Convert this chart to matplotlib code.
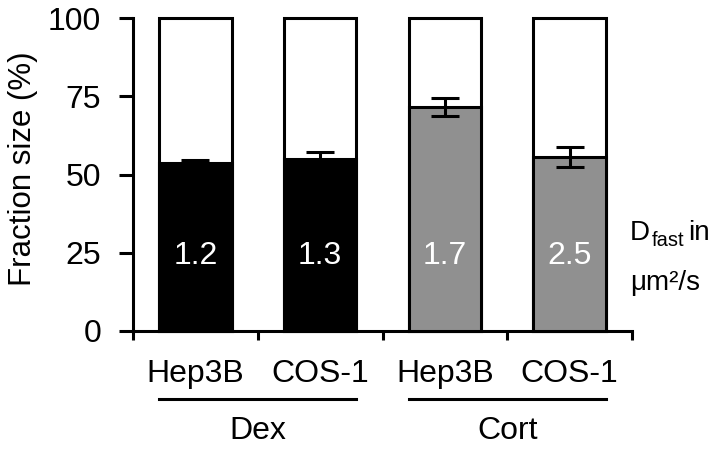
import numpy as np
import matplotlib
matplotlib.use('Agg')
from matplotlib import pyplot as plt

plt.rcParams['font.family'] = ['Liberation Sans', 'DejaVu Sans']

# ---------- Data
cells = ['Hep3B', 'COS-1', 'Hep3B', 'COS-1']
groups = ['Dex', 'Cort']
fast = [53.6, 54.9, 71.6, 55.6]
err = [0.9, 2.2, 3.0, 3.2]
dfast = ['1.2', '1.3', '1.7', '2.5']
colors = ['black', 'black', '#909090', '#909090']

# ---------- Figure
W, H = 721, 449
fig = plt.figure(figsize=(W / 100, H / 100), dpi=100)
ax = fig.add_axes([133 / W, 1 - 331 / H, 499 / W, 313 / H])
x = np.arange(len(cells))
w = 0.58
lw = 2.2
fs = 23

ax.bar(x, [100] * len(x), w, color='white', edgecolor='black', linewidth=lw, clip_on=False, zorder=2)
ax.bar(x, fast, w, color=colors, edgecolor='black', linewidth=lw, clip_on=False, zorder=3)
ax.errorbar(x, fast, yerr=err, fmt='none', ecolor='black', elinewidth=lw,
            capsize=10, capthick=lw, zorder=4, clip_on=False)

for xi, t in zip(x, dfast):
	ax.text(xi, 24, t, color='white', fontsize=fs, ha='center', va='center', zorder=5)

ax.set_xlim(-0.5, 3.5)
ax.set_ylim(0, 100)
ax.set_yticks([0, 25, 50, 75, 100])
ax.tick_params(axis='y', labelsize=fs, length=10, width=lw, pad=13)
ax.set_xticks(np.arange(-0.5, 4, 1))
ax.set_xticklabels([])
ax.tick_params(axis='x', length=6.5, width=lw)
ax.set_xticks(x, minor=True)
ax.set_xticklabels(cells, minor=True)
ax.tick_params(axis='x', which='minor', length=0, labelsize=fs, pad=20)
ax.spines['top'].set_visible(False)
ax.spines['right'].set_visible(False)
ax.spines['left'].set_linewidth(lw)
ax.spines['bottom'].set_linewidth(lw)
ax.set_ylabel('Fraction size (%)', fontsize=22.5, va='center')
ax.yaxis.set_label_coords(-0.22, 0.52)

# ---------- Group labels
tr = ax.get_xaxis_transform()
for i, g in enumerate(groups):
	x0 = 2 * i - w / 2
	x1 = 2 * i + 1 + w / 2
	ax.plot([x0, x1], [-0.217, -0.217], color='black', linewidth=lw, transform=tr, clip_on=False)
	ax.text((x0 + x1) / 2, -0.318, g, fontsize=fs, ha='center', va='center', transform=tr)

# ---------- D_fast note
yb = 1 - 240 / H
fig.text(630 / W, yb, 'D', fontsize=20, ha='left', va='baseline')
fig.text(652 / W, yb - 6 / H, 'fast', fontsize=14.5, ha='left', va='baseline')
fig.text(688 / W, yb, 'in', fontsize=20, ha='left', va='baseline')
fig.text(630 / W, 1 - 290 / H, 'μm²/s', fontsize=20, ha='left', va='baseline')

plt.savefig('out.png', dpi=100)
